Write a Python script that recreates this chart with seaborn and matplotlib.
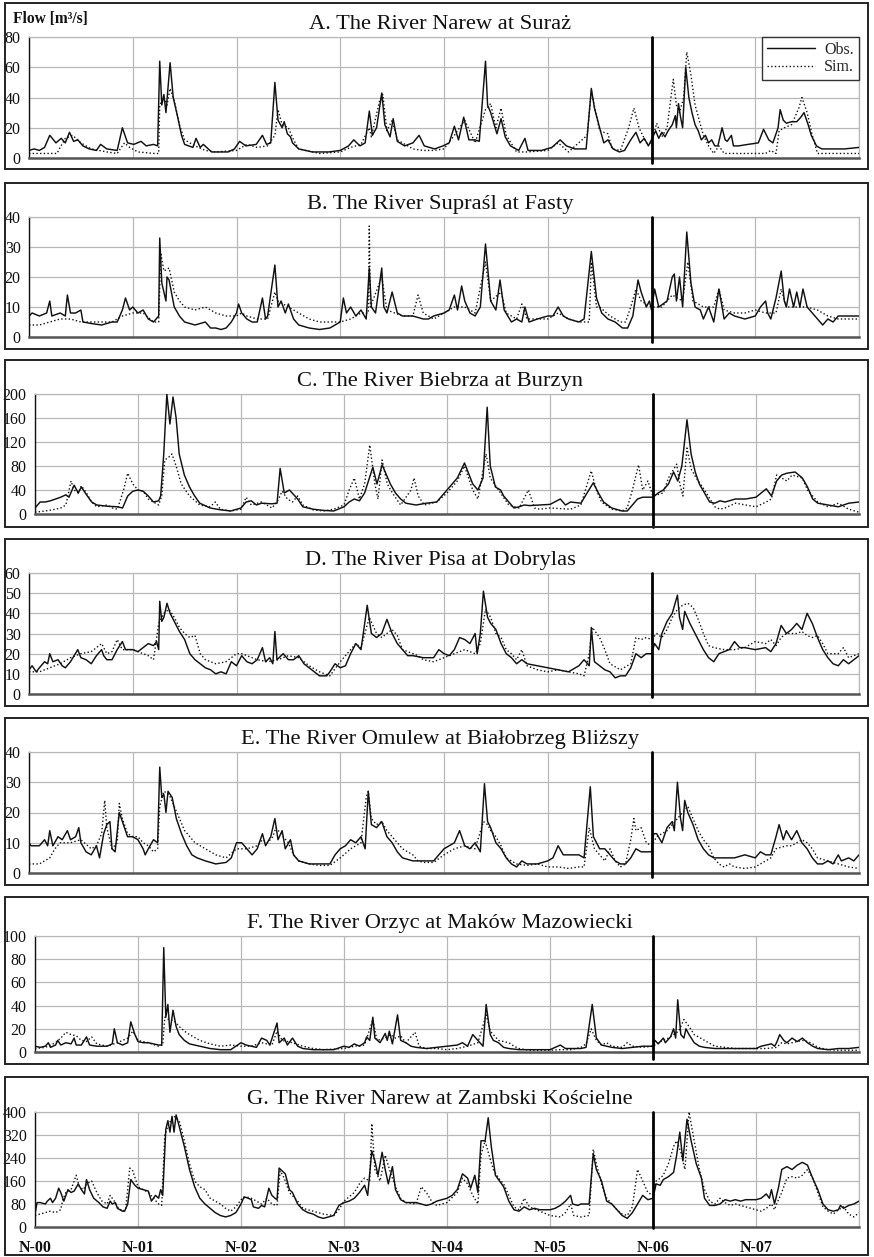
import numpy as np
import pandas as pd
import matplotlib
matplotlib.use("Agg")
import matplotlib.pyplot as plt
import matplotlib.transforms as mtransforms
from matplotlib.patches import Rectangle
from matplotlib.lines import Line2D
import seaborn as sns

# ---------------------------------------------------------------------------
# Daily flow records (time in years from November 2000, flow in m3/s),
# stored as (time, flow) pairs at the turning points of each hydrograph.
# ---------------------------------------------------------------------------
suraz_obs = [(0,5),(0.05,6),(0.1,5),(0.15,7),(0.2,15),(0.26,10),(0.31,13),(0.35,10),(0.39,17),(0.43,11),(0.47,12),(0.52,8),(0.58,6),(0.65,5),(0.69,9),(0.75,6),(0.85,5),(0.9,20),(0.95,10),(1.01,9),(1.08,11),(1.13,8),(1.2,9),(1.24,8),(1.26,64),(1.28,35),(1.3,42),(1.32,30),(1.36,63),(1.39,40),(1.43,28),(1.47,15),(1.5,9),(1.58,7),(1.61,13),(1.65,7),(1.68,9),(1.76,4),(1.92,4),(1.98,6),(2.03,11),(2.09,8),(2.19,9),(2.25,15),(2.29,9),(2.33,10),(2.37,50),(2.4,25),(2.44,20),(2.46,24),(2.49,16),(2.52,14),(2.54,10),(2.6,6),(2.73,4),(2.89,4),(3.0,5),(3.08,8),(3.13,12),(3.19,8),(3.24,10),(3.28,31),(3.31,15),(3.35,20),(3.4,43),(3.43,22),(3.48,14),(3.51,26),(3.55,11),(3.62,8),(3.7,10),(3.76,15),(3.81,8),(3.91,6),(3.99,8),(4.05,10),(4.1,21),(4.14,12),(4.19,27),(4.24,12),(4.3,12),(4.34,11),(4.4,64),(4.42,35),(4.45,30),(4.51,16),(4.55,26),(4.59,14),(4.64,8),(4.72,5),(4.78,13),(4.81,5),(4.94,5),(5.04,7),(5.12,12),(5.18,8),(5.26,6),(5.37,6),(5.42,46),(5.45,33),(5.5,20),(5.54,10),(5.58,12),(5.63,6),(5.69,4),(5.74,5),(5.8,12),(5.85,17),(5.89,10),(5.93,13),(5.97,8),(6.0,12),(6.04,18),(6.07,13),(6.1,17),(6.13,14),(6.16,18),(6.2,22),(6.23,28),(6.24,20),(6.26,36),(6.28,27),(6.3,20),(6.33,60),(6.36,40),(6.39,30),(6.42,22),(6.45,18),(6.48,12),(6.52,15),(6.55,10),(6.58,12),(6.61,8),(6.64,8),(6.68,20),(6.71,12),(6.73,11),(6.77,15),(6.79,8),(6.84,8),(6.93,9),(7.03,10),(7.08,19),(7.13,12),(7.17,10),(7.22,20),(7.24,32),(7.27,25),(7.3,23),(7.35,24),(7.4,24),(7.44,27),(7.47,30),(7.51,22),(7.54,15),(7.59,8),(7.64,6),(7.73,6),(7.86,6),(8.0,7)]
suraz_sim = [(0,3),(0.27,3),(0.3,7),(0.35,13),(0.42,15),(0.5,10),(0.6,6),(0.75,4),(0.85,3),(0.92,10),(0.97,7),(1.05,4),(1.21,3),(1.25,3),(1.26,35),(1.3,40),(1.33,35),(1.36,46),(1.4,38),(1.45,22),(1.5,12),(1.6,8),(1.7,5),(1.8,4),(2.0,5),(2.1,9),(2.2,7),(2.3,8),(2.37,15),(2.4,32),(2.44,22),(2.5,20),(2.55,12),(2.6,6),(2.8,3),(3.0,4),(3.1,7),(3.2,9),(3.28,20),(3.3,14),(3.38,38),(3.41,42),(3.45,18),(3.5,25),(3.55,12),(3.7,6),(3.8,5),(3.9,5),(4.0,6),(4.1,15),(4.2,25),(4.3,10),(4.4,32),(4.45,36),(4.5,20),(4.55,33),(4.6,15),(4.7,4),(4.8,4),(5.0,5),(5.1,10),(5.2,4),(5.38,15),(5.42,44),(5.5,18),(5.58,16),(5.62,6),(5.7,5),(5.78,20),(5.83,33),(5.88,20),(5.95,10),(6.0,10),(6.05,23),(6.1,14),(6.15,20),(6.21,52),(6.24,35),(6.27,30),(6.31,40),(6.34,70),(6.38,55),(6.42,35),(6.46,25),(6.5,15),(6.55,8),(6.6,3),(6.65,8),(6.7,3),(6.8,3),(7.0,3),(7.1,3),(7.15,5),(7.2,3),(7.23,18),(7.28,20),(7.35,22),(7.42,33),(7.45,40),(7.5,30),(7.55,15),(7.6,3),(8.0,3)]

fasty_obs = [(0,7),(0.03,8),(0.1,7),(0.17,8),(0.2,12),(0.22,7),(0.3,8),(0.35,7),(0.37,14),(0.4,8),(0.45,8),(0.5,9),(0.52,5),(0.6,4.5),(0.7,4),(0.8,5),(0.85,5),(0.9,9),(0.93,13),(0.97,9),(1.0,10),(1.05,8),(1.1,9),(1.15,6),(1.2,5),(1.25,7),(1.26,33),(1.28,18),(1.3,15),(1.32,12),(1.33,20),(1.35,19),(1.4,10),(1.45,7),(1.5,5),(1.6,4),(1.7,5),(1.75,3),(1.8,3),(1.85,2.5),(1.9,3),(1.95,5),(2.0,8),(2.02,11),(2.05,8),(2.1,6),(2.15,5),(2.2,5),(2.25,13),(2.28,6),(2.3,7),(2.37,24),(2.4,10),(2.43,12),(2.47,8),(2.5,11),(2.55,6),(2.6,4),(2.7,3),(2.8,2.5),(2.9,3),(3.0,5),(3.03,13),(3.06,8),(3.1,10),(3.15,7),(3.2,9),(3.25,6),(3.28,23),(3.3,10),(3.34,8),(3.4,23),(3.42,10),(3.45,8),(3.5,15),(3.55,8),(3.6,7),(3.7,7),(3.8,6),(3.85,6),(3.9,7),(4.0,8),(4.05,9),(4.1,14),(4.13,9),(4.17,17),(4.2,12),(4.25,8),(4.3,7),(4.35,10),(4.4,31),(4.45,12),(4.5,9),(4.54,19),(4.58,9),(4.65,5),(4.7,6),(4.75,5),(4.78,10),(4.82,5),(4.9,6),(5.0,7),(5.05,7),(5.1,10),(5.15,7),(5.2,6),(5.3,5),(5.35,6),(5.42,28.5),(5.47,13),(5.52,8),(5.58,6),(5.65,5),(5.72,3),(5.77,3),(5.82,7),(5.87,19),(5.9,15),(5.95,10),(5.98,12),(6.0,9),(6.03,16),(6.07,10),(6.15,12),(6.2,20),(6.22,21),(6.24,12),(6.27,20),(6.3,10),(6.34,35),(6.38,18),(6.42,10),(6.47,9),(6.5,6),(6.55,10),(6.6,5),(6.65,16),(6.7,6),(6.75,8),(6.8,7),(6.9,6),(7.0,7),(7.05,10),(7.1,12),(7.12,8),(7.15,6),(7.2,13),(7.25,22),(7.28,12),(7.3,10),(7.33,16),(7.37,10),(7.4,15),(7.43,10),(7.46,16),(7.5,10),(7.55,8),(7.6,6),(7.65,4),(7.7,6),(7.75,5),(7.8,7),(7.9,7),(8.0,7)]
fasty_sim = [(0,4),(0.1,4),(0.2,5),(0.3,6),(0.4,6),(0.5,5),(0.6,5),(0.7,5),(0.8,5),(0.9,7),(1.0,8),(1.1,8),(1.2,5),(1.25,5),(1.27,28),(1.3,22),(1.35,23),(1.4,15),(1.45,12),(1.5,10),(1.6,9),(1.7,10),(1.75,9),(1.8,8),(1.9,7),(2.0,7),(2.05,8),(2.1,7),(2.2,6),(2.3,6),(2.37,15),(2.4,12),(2.5,10),(2.6,8),(2.7,6),(2.8,5),(2.9,5),(3.0,5),(3.1,6),(3.2,8),(3.27,8),(3.28,37),(3.29,10),(3.4,20),(3.45,9),(3.6,7),(3.7,7),(3.75,14),(3.8,8),(3.9,6),(4.0,8),(4.1,10),(4.2,10),(4.3,8),(4.4,25),(4.45,12),(4.55,15),(4.6,8),(4.7,6),(4.75,11),(4.8,6),(4.9,6),(5.0,6),(5.1,8),(5.2,6),(5.3,5),(5.4,5),(5.42,25),(5.47,10),(5.5,10),(5.6,7),(5.7,5),(5.75,5),(5.8,10),(5.85,16),(5.9,12),(6.0,10),(6.1,10),(6.2,14),(6.3,12),(6.35,25),(6.4,12),(6.5,10),(6.6,10),(6.65,16),(6.7,9),(6.8,8),(6.9,8),(7.0,9),(7.1,8),(7.2,8),(7.25,16),(7.3,10),(7.4,10),(7.5,10),(7.6,9),(7.7,7),(7.8,6),(7.9,6),(8.0,6)]

burzyn_obs = [(0,10),(0.05,20),(0.1,20),(0.15,22),(0.2,25),(0.25,28),(0.3,32),(0.33,28),(0.38,48),(0.42,35),(0.45,45),(0.5,32),(0.55,20),(0.6,15),(0.7,13),(0.8,12),(0.85,10),(0.9,30),(0.95,38),(1.0,40),(1.05,38),(1.1,30),(1.15,20),(1.2,22),(1.22,30),(1.25,100),(1.28,200),(1.31,150),(1.34,195),(1.37,160),(1.4,100),(1.45,65),(1.5,45),(1.55,30),(1.6,18),(1.7,10),(1.8,7),(1.9,5),(2.0,10),(2.05,20),(2.1,22),(2.15,15),(2.2,18),(2.3,17),(2.35,18),(2.38,76),(2.42,35),(2.47,40),(2.55,25),(2.6,12),(2.7,8),(2.8,6),(2.9,5),(3.0,12),(3.05,20),(3.1,25),(3.15,22),(3.2,35),(3.28,78),(3.32,50),(3.37,82),(3.45,50),(3.5,35),(3.55,25),(3.6,18),(3.7,15),(3.8,18),(3.9,20),(3.95,30),(4.0,40),(4.1,60),(4.17,85),(4.25,50),(4.3,40),(4.35,60),(4.39,178),(4.42,80),(4.47,45),(4.52,40),(4.55,30),(4.6,20),(4.65,10),(4.7,12),(4.75,15),(4.8,14),(5.0,16),(5.1,25),(5.15,15),(5.2,20),(5.3,18),(5.42,52),(5.47,35),(5.52,20),(5.6,10),(5.7,5),(5.75,5),(5.8,15),(5.85,25),(5.9,28),(6.0,28),(6.05,35),(6.1,40),(6.15,50),(6.2,70),(6.24,55),(6.28,80),(6.33,157),(6.37,100),(6.41,70),(6.45,50),(6.5,35),(6.55,20),(6.6,18),(6.65,22),(6.7,20),(6.8,25),(6.9,25),(7.0,28),(7.05,35),(7.1,42),(7.15,30),(7.2,55),(7.25,65),(7.3,68),(7.38,70),(7.45,60),(7.5,45),(7.55,25),(7.6,18),(7.7,15),(7.8,12),(7.9,18),(8.0,20)]
burzyn_sim = [(0,3),(0.1,5),(0.2,8),(0.25,10),(0.3,15),(0.35,55),(0.38,40),(0.42,35),(0.45,47),(0.5,35),(0.55,20),(0.6,12),(0.7,15),(0.75,10),(0.8,8),(0.86,40),(0.9,68),(0.95,50),(1.0,40),(1.05,38),(1.1,25),(1.2,15),(1.23,30),(1.26,90),(1.3,95),(1.33,100),(1.37,80),(1.42,50),(1.5,30),(1.6,15),(1.7,12),(1.75,20),(1.8,8),(1.9,5),(2.0,8),(2.05,28),(2.1,15),(2.2,20),(2.3,10),(2.35,20),(2.4,38),(2.45,25),(2.5,20),(2.55,30),(2.6,15),(2.7,7),(2.8,5),(2.9,8),(3.0,15),(3.05,40),(3.1,60),(3.15,25),(3.2,50),(3.25,115),(3.3,50),(3.33,25),(3.37,90),(3.42,50),(3.47,35),(3.55,15),(3.65,40),(3.68,60),(3.72,30),(3.78,15),(3.9,20),(4.0,35),(4.1,55),(4.17,80),(4.25,40),(4.3,25),(4.38,100),(4.42,60),(4.5,40),(4.6,15),(4.7,10),(4.79,40),(4.85,10),(4.9,8),(5.0,10),(5.2,8),(5.3,15),(5.4,72),(5.45,40),(5.5,20),(5.6,8),(5.7,5),(5.75,10),(5.8,40),(5.86,82),(5.9,40),(5.95,55),(6.0,30),(6.1,35),(6.15,60),(6.23,83),(6.26,50),(6.29,30),(6.33,110),(6.37,75),(6.42,60),(6.5,40),(6.6,12),(6.65,8),(6.7,10),(6.8,18),(6.9,15),(7.0,12),(7.1,20),(7.15,25),(7.2,65),(7.3,55),(7.35,65),(7.45,60),(7.5,40),(7.6,20),(7.7,12),(7.8,18),(7.9,8),(8.0,3)]

dobrylas_obs = [(0,12),(0.03,14),(0.07,11),(0.1,13),(0.15,16),(0.18,15),(0.2,20),(0.23,16),(0.28,17),(0.32,14),(0.35,13),(0.4,16),(0.47,22),(0.5,18),(0.55,17),(0.6,15),(0.65,19),(0.7,22),(0.72,19),(0.75,17),(0.8,17),(0.85,22),(0.9,26),(0.93,22),(1.0,22),(1.05,21),(1.1,23),(1.15,25),(1.2,24),(1.23,26),(1.25,22),(1.26,46),(1.28,36),(1.3,38),(1.33,45),(1.36,40),(1.4,36),(1.45,31),(1.5,27),(1.55,20),(1.6,17),(1.65,15),(1.7,13),(1.75,12),(1.8,10),(1.85,11),(1.9,10),(1.95,16),(2.0,14),(2.05,19),(2.1,16),(2.15,15),(2.2,17),(2.25,23),(2.28,16),(2.32,18),(2.35,15),(2.37,31),(2.39,17),(2.45,20),(2.5,17),(2.55,17),(2.6,19),(2.65,15),(2.7,13),(2.75,11),(2.8,9),(2.87,9),(2.9,11),(2.95,15),(3.0,13),(3.05,14),(3.1,20),(3.15,25),(3.2,22),(3.26,44),(3.3,30),(3.35,28),(3.4,30),(3.45,37),(3.5,30),(3.55,25),(3.6,22),(3.65,19),(3.7,19),(3.8,18),(3.9,18),(3.95,22),(4.0,20),(4.05,19),(4.1,22),(4.15,28),(4.2,27),(4.25,25),(4.3,30),(4.32,20),(4.35,30),(4.38,51),(4.42,38),(4.45,35),(4.5,32),(4.55,25),(4.6,20),(4.65,18),(4.7,15),(4.75,17),(4.8,15),(4.9,14),(5.0,13),(5.1,12),(5.2,11),(5.3,14),(5.35,17),(5.4,14),(5.42,33),(5.45,16),(5.5,14),(5.55,12),(5.6,11),(5.65,8),(5.7,9),(5.75,9),(5.8,13),(5.85,20),(5.9,18),(5.95,20),(6.0,20),(6.03,25),(6.07,22),(6.1,30),(6.15,36),(6.2,40),(6.25,49),(6.27,38),(6.3,32),(6.32,41),(6.37,35),(6.45,27),(6.5,22),(6.55,18),(6.6,16),(6.65,20),(6.7,21),(6.75,22),(6.8,26),(6.85,23),(6.9,23),(7.0,22),(7.1,23),(7.15,21),(7.2,25),(7.25,34),(7.3,30),(7.35,32),(7.4,35),(7.45,32),(7.5,40),(7.55,35),(7.6,28),(7.65,22),(7.7,18),(7.75,15),(7.8,14),(7.85,17),(7.9,15),(7.95,17),(8.0,19)]
dobrylas_sim = [(0,11),(0.1,11),(0.2,13),(0.3,15),(0.4,18),(0.5,20),(0.6,21),(0.7,25),(0.75,20),(0.8,21),(0.85,27),(0.9,22),(1.0,22),(1.1,20),(1.15,19),(1.2,17),(1.25,35),(1.3,40),(1.35,42),(1.4,38),(1.45,33),(1.5,30),(1.55,28),(1.6,29),(1.65,20),(1.7,17),(1.8,15),(1.9,16),(2.0,20),(2.05,20),(2.1,19),(2.2,17),(2.3,16),(2.4,17),(2.5,19),(2.6,18),(2.7,14),(2.8,11),(2.9,9),(3.0,16),(3.1,22),(3.15,25),(3.2,23),(3.28,38),(3.35,30),(3.4,28),(3.5,32),(3.55,29),(3.6,22),(3.7,20),(3.75,19),(3.8,17),(3.9,16),(4.0,18),(4.1,20),(4.2,22),(4.3,20),(4.35,25),(4.4,42),(4.45,38),(4.5,30),(4.55,28),(4.6,22),(4.65,20),(4.7,17),(4.75,22),(4.8,14),(4.9,12),(5.0,11),(5.1,12),(5.2,11),(5.3,10),(5.35,9),(5.4,20),(5.43,33),(5.5,28),(5.55,22),(5.6,15),(5.7,12),(5.8,15),(5.85,28),(5.9,27),(5.95,28),(6.0,27),(6.05,30),(6.1,28),(6.15,32),(6.2,38),(6.25,42),(6.3,44),(6.35,45),(6.4,43),(6.45,37),(6.5,30),(6.55,24),(6.6,23),(6.7,22),(6.8,22),(6.9,23),(7.0,26),(7.1,25),(7.15,27),(7.2,24),(7.25,28),(7.3,30),(7.4,30),(7.45,31),(7.5,29),(7.55,28),(7.6,29),(7.65,25),(7.7,20),(7.8,20),(7.85,23),(7.9,18),(8.0,20)]

bialobrzeg_obs = [(0,10),(0.02,9),(0.1,9),(0.15,11),(0.18,9),(0.2,14),(0.23,9),(0.28,12),(0.32,11),(0.37,14),(0.4,11),(0.45,12),(0.48,15),(0.5,10),(0.55,7),(0.6,6),(0.65,9),(0.68,5),(0.72,13),(0.75,16),(0.78,17),(0.8,8),(0.83,7),(0.87,20),(0.9,17),(0.95,12),(1.0,12),(1.05,11),(1.1,8),(1.12,6),(1.15,8),(1.2,11),(1.24,10),(1.26,35),(1.28,25),(1.3,26),(1.32,20),(1.34,27),(1.38,25),(1.42,18),(1.47,13),(1.52,9),(1.57,6),(1.62,5),(1.7,4),(1.8,3),(1.9,3.5),(1.95,5),(2.0,10),(2.05,10),(2.1,8),(2.15,6),(2.2,8),(2.25,13),(2.28,9),(2.33,12),(2.37,18),(2.4,11),(2.44,14),(2.47,8),(2.52,11),(2.55,6),(2.6,4),(2.7,3),(2.8,3),(2.9,3),(2.95,6),(3.0,8),(3.05,9),(3.1,11),(3.15,10),(3.2,12),(3.24,8),(3.27,27),(3.3,16),(3.35,15),(3.4,17),(3.45,12),(3.5,10),(3.55,7),(3.6,5),(3.7,4),(3.8,4),(3.9,4),(4.0,8),(4.05,9),(4.1,10),(4.15,14),(4.2,9),(4.25,8),(4.3,10),(4.35,7),(4.39,29.5),(4.42,17),(4.45,15),(4.5,10),(4.55,8),(4.6,5),(4.65,3),(4.7,2),(4.75,4),(4.8,3),(4.9,3),(5.0,4),(5.05,5),(5.1,9),(5.15,6),(5.2,6),(5.3,6),(5.35,5),(5.41,28.5),(5.44,12),(5.5,8),(5.55,8),(5.6,6),(5.65,4),(5.7,3),(5.75,3),(5.8,5),(5.85,8),(5.9,7),(6.0,7),(6.02,13),(6.05,13),(6.1,10),(6.15,15),(6.2,17),(6.22,14),(6.25,30),(6.28,18),(6.3,14),(6.32,24),(6.35,20),(6.4,16),(6.45,11),(6.5,8),(6.55,6),(6.6,5),(6.7,5),(6.8,5),(6.9,6),(7.0,5),(7.05,7),(7.1,6),(7.15,6),(7.2,12),(7.23,16),(7.27,11),(7.3,14),(7.35,11),(7.4,14),(7.45,10),(7.5,8),(7.55,5),(7.6,3),(7.65,3),(7.7,4),(7.75,3),(7.8,6),(7.83,4),(7.9,5),(7.95,4),(8.0,6)]
bialobrzeg_sim = [(0,3),(0.1,3),(0.2,5),(0.25,8),(0.3,10),(0.4,10),(0.5,11),(0.6,8),(0.65,9),(0.7,13),(0.73,24),(0.75,15),(0.8,8),(0.85,10),(0.87,23),(0.9,18),(0.95,13),(1.0,12),(1.05,12),(1.1,10),(1.15,9),(1.2,7),(1.24,8),(1.26,22),(1.3,27),(1.35,26),(1.4,22),(1.45,18),(1.5,14),(1.55,12),(1.6,10),(1.7,8),(1.8,6),(1.9,5),(2.0,8),(2.05,8),(2.1,8),(2.2,9),(2.25,11),(2.3,10),(2.35,12),(2.38,15),(2.45,12),(2.5,10),(2.55,6),(2.6,4),(2.7,3),(2.8,2.5),(2.9,2.5),(3.0,5),(3.1,8),(3.2,10),(3.25,25),(3.27,27),(3.3,18),(3.35,16),(3.4,17),(3.45,14),(3.5,12),(3.55,10),(3.6,8),(3.7,6),(3.75,4),(3.8,3.5),(3.9,3.5),(4.0,6),(4.1,8),(4.2,9),(4.3,8),(4.38,17),(4.42,16),(4.45,14),(4.5,12),(4.55,9),(4.6,5),(4.7,3),(4.8,2.5),(4.9,3),(5.0,2),(5.1,2),(5.2,1.5),(5.3,2),(5.35,2),(5.4,15),(5.45,8),(5.5,6),(5.55,4),(5.6,8),(5.65,4),(5.7,2),(5.75,3),(5.8,11),(5.83,18),(5.85,14),(5.9,15),(5.95,10),(6.0,9),(6.05,12),(6.1,13),(6.15,14),(6.2,16),(6.25,18),(6.3,20),(6.35,22),(6.4,18),(6.45,14),(6.5,11),(6.55,9),(6.6,5),(6.65,3),(6.7,2),(6.75,3),(6.8,2),(6.9,1.5),(7.0,2),(7.1,4),(7.15,5),(7.2,8),(7.3,9),(7.35,9),(7.4,10),(7.45,11),(7.5,10),(7.55,8),(7.6,5),(7.7,4),(7.8,3),(7.9,2),(8.0,1.5)]

makow_obs = [(0,5),(0.05,4),(0.1,5),(0.13,8),(0.15,4),(0.2,6),(0.22,10),(0.25,6),(0.3,8),(0.35,7),(0.38,12),(0.4,6),(0.45,6),(0.5,13),(0.53,6),(0.6,5),(0.7,5),(0.75,7),(0.77,20),(0.8,8),(0.85,6),(0.9,8),(0.93,26),(0.97,15),(1.0,9),(1.05,8),(1.1,8),(1.15,7),(1.2,6),(1.23,6),(1.25,90),(1.27,30),(1.29,41),(1.31,17),(1.34,36),(1.37,22),(1.4,15),(1.45,10),(1.5,7),(1.6,5),(1.7,3),(1.8,2),(1.9,2),(2.0,8),(2.05,6),(2.1,5),(2.15,4),(2.2,12),(2.25,10),(2.28,6),(2.35,25),(2.37,8),(2.42,12),(2.45,6),(2.5,12),(2.55,5),(2.6,3),(2.7,2),(2.8,2),(2.9,2),(3.0,5),(3.05,4),(3.1,7),(3.15,5),(3.2,8),(3.22,13),(3.25,10),(3.28,30),(3.3,12),(3.35,8),(3.4,16),(3.42,10),(3.44,18),(3.47,7),(3.52,32),(3.55,10),(3.6,8),(3.65,5),(3.7,4),(3.8,3),(3.9,4),(4.0,5),(4.1,6),(4.15,8),(4.2,5),(4.25,15),(4.3,10),(4.35,5),(4.38,41),(4.42,15),(4.45,10),(4.5,8),(4.55,4),(4.6,3),(4.7,2),(4.8,2),(4.9,2),(5.0,2),(5.05,4),(5.1,6),(5.15,3),(5.2,3),(5.3,3),(5.35,4),(5.41,41),(5.45,12),(5.5,6),(5.6,4),(5.7,3),(5.8,4),(5.9,5),(6.0,5),(6.02,10),(6.05,7),(6.1,12),(6.12,8),(6.17,13),(6.2,20),(6.22,12),(6.24,45),(6.27,15),(6.3,12),(6.32,20),(6.35,15),(6.4,8),(6.45,5),(6.5,4),(6.6,3),(6.7,3),(6.8,3),(6.9,3),(7.0,3),(7.05,5),(7.1,6),(7.15,7),(7.18,5),(7.2,8),(7.23,15),(7.27,10),(7.3,8),(7.35,12),(7.4,9),(7.45,12),(7.5,8),(7.55,5),(7.6,3),(7.7,2),(7.8,3),(7.9,3),(8.0,4)]
makow_sim = [(0,3),(0.1,4),(0.2,8),(0.25,12),(0.3,17),(0.35,15),(0.4,14),(0.45,10),(0.5,9),(0.55,13),(0.6,7),(0.7,5),(0.8,8),(0.9,12),(0.95,18),(1.0,10),(1.1,8),(1.2,5),(1.24,6),(1.26,30),(1.3,28),(1.35,27),(1.4,22),(1.45,18),(1.5,15),(1.6,10),(1.7,7),(1.8,5),(1.9,6),(2.0,5),(2.1,5),(2.2,8),(2.3,6),(2.35,18),(2.4,10),(2.5,8),(2.6,5),(2.7,3),(2.8,2),(3.0,3),(3.1,5),(3.2,6),(3.28,28),(3.32,10),(3.4,12),(3.45,15),(3.5,12),(3.55,14),(3.6,8),(3.69,17),(3.73,5),(3.8,3),(3.9,3),(4.0,2),(4.1,3),(4.2,5),(4.3,8),(4.38,32),(4.42,18),(4.5,10),(4.6,8),(4.65,5),(4.7,3),(4.8,1.5),(5.0,1.5),(5.1,2),(5.2,2),(5.3,4),(5.35,7),(5.4,20),(5.45,10),(5.5,6),(5.55,8),(5.6,5),(5.7,4),(5.75,8),(5.8,5),(5.9,4),(6.0,5),(6.05,8),(6.1,10),(6.15,12),(6.2,15),(6.25,18),(6.3,28),(6.35,22),(6.4,15),(6.5,10),(6.6,5),(6.7,4),(6.8,3),(7.0,3),(7.1,3),(7.2,4),(7.25,8),(7.3,7),(7.4,9),(7.45,10),(7.5,9),(7.55,7),(7.6,4),(7.7,2),(7.8,1.5),(7.9,1.5),(8.0,1.5)]

zambski_obs = [(0,45),(0.02,85),(0.05,85),(0.1,80),(0.12,90),(0.15,100),(0.17,85),(0.2,100),(0.23,135),(0.25,120),(0.28,90),(0.3,110),(0.32,130),(0.35,120),(0.38,125),(0.42,150),(0.45,130),(0.48,115),(0.5,165),(0.53,130),(0.57,100),(0.62,85),(0.66,70),(0.7,65),(0.73,90),(0.75,80),(0.78,85),(0.8,65),(0.85,55),(0.87,55),(0.9,80),(0.93,165),(0.97,145),(1.0,135),(1.05,130),(1.1,125),(1.13,90),(1.17,110),(1.2,100),(1.22,130),(1.24,110),(1.27,340),(1.29,370),(1.31,330),(1.33,385),(1.35,330),(1.37,390),(1.4,350),(1.45,280),(1.5,200),(1.55,140),(1.6,100),(1.65,80),(1.7,65),(1.75,50),(1.8,40),(1.85,35),(1.9,40),(1.95,50),(2.0,80),(2.03,105),(2.07,100),(2.1,95),(2.12,70),(2.17,65),(2.2,75),(2.23,70),(2.27,135),(2.3,110),(2.33,100),(2.35,95),(2.37,205),(2.4,195),(2.43,185),(2.47,130),(2.5,120),(2.55,80),(2.6,60),(2.65,50),(2.7,45),(2.75,35),(2.8,30),(2.85,35),(2.9,40),(2.95,75),(3.0,85),(3.05,90),(3.1,100),(3.15,120),(3.2,145),(3.23,110),(3.27,265),(3.3,230),(3.33,180),(3.37,260),(3.4,200),(3.43,150),(3.47,210),(3.5,130),(3.55,95),(3.6,85),(3.7,85),(3.8,75),(3.85,80),(3.9,90),(3.95,95),(4.0,100),(4.05,110),(4.1,130),(4.15,185),(4.2,170),(4.23,135),(4.27,180),(4.3,120),(4.33,300),(4.37,300),(4.4,380),(4.43,280),(4.47,180),(4.5,165),(4.55,140),(4.6,90),(4.65,60),(4.7,55),(4.75,70),(4.8,60),(4.85,65),(4.9,60),(5.0,60),(5.05,65),(5.1,75),(5.15,90),(5.2,110),(5.22,80),(5.27,75),(5.3,80),(5.38,80),(5.42,255),(5.45,200),(5.5,160),(5.55,90),(5.6,80),(5.65,60),(5.7,40),(5.75,30),(5.8,50),(5.85,80),(5.9,110),(5.95,95),(6.0,100),(6.03,150),(6.07,145),(6.1,165),(6.15,175),(6.2,190),(6.23,250),(6.26,330),(6.29,230),(6.33,375),(6.37,300),(6.42,220),(6.47,170),(6.5,100),(6.55,75),(6.6,75),(6.65,80),(6.7,95),(6.75,90),(6.8,95),(6.85,90),(6.9,95),(7.0,95),(7.05,100),(7.1,115),(7.13,100),(7.15,130),(7.18,80),(7.22,140),(7.25,200),(7.3,210),(7.35,200),(7.4,215),(7.45,225),(7.5,215),(7.55,170),(7.6,130),(7.65,80),(7.7,60),(7.75,55),(7.8,60),(7.82,75),(7.85,65),(7.9,75),(7.95,80),(8.0,90)]
zambski_sim = [(0,40),(0.05,45),(0.1,50),(0.15,55),(0.2,50),(0.25,60),(0.27,95),(0.3,120),(0.35,130),(0.4,180),(0.43,140),(0.47,130),(0.5,150),(0.55,160),(0.6,120),(0.65,90),(0.7,80),(0.73,110),(0.77,90),(0.8,70),(0.85,55),(0.88,60),(0.92,205),(0.95,195),(1.0,140),(1.05,130),(1.1,120),(1.15,100),(1.2,80),(1.23,75),(1.26,320),(1.3,360),(1.35,385),(1.4,370),(1.45,300),(1.5,220),(1.55,160),(1.6,140),(1.65,130),(1.7,100),(1.75,90),(1.8,80),(1.85,65),(1.9,55),(1.95,70),(2.0,95),(2.05,105),(2.1,100),(2.15,90),(2.2,80),(2.25,100),(2.3,80),(2.35,75),(2.38,195),(2.42,170),(2.47,120),(2.55,90),(2.6,65),(2.7,55),(2.8,45),(2.9,40),(2.95,60),(3.0,90),(3.1,120),(3.15,150),(3.2,170),(3.25,160),(3.27,360),(3.3,200),(3.35,160),(3.4,250),(3.45,190),(3.5,140),(3.55,100),(3.6,85),(3.7,80),(3.75,140),(3.8,120),(3.85,90),(3.9,75),(3.95,80),(4.0,85),(4.1,120),(4.15,170),(4.2,150),(4.25,110),(4.3,80),(4.33,250),(4.37,300),(4.4,260),(4.45,200),(4.5,170),(4.55,150),(4.6,110),(4.65,70),(4.7,60),(4.75,100),(4.8,70),(4.9,55),(5.0,40),(5.1,35),(5.15,50),(5.2,80),(5.23,40),(5.3,35),(5.38,40),(5.42,270),(5.45,220),(5.5,150),(5.55,100),(5.6,80),(5.65,60),(5.7,45),(5.75,40),(5.8,70),(5.85,200),(5.9,160),(5.95,120),(6.0,110),(6.03,160),(6.07,170),(6.1,180),(6.15,220),(6.2,280),(6.23,300),(6.27,260),(6.31,200),(6.35,400),(6.4,300),(6.45,200),(6.5,130),(6.55,90),(6.6,80),(6.65,100),(6.7,85),(6.75,75),(6.8,80),(6.9,70),(7.0,60),(7.05,55),(7.1,65),(7.15,80),(7.18,60),(7.2,80),(7.25,120),(7.3,170),(7.35,175),(7.4,170),(7.45,180),(7.5,200),(7.55,170),(7.6,120),(7.65,70),(7.7,55),(7.75,45),(7.8,60),(7.85,70),(7.9,45),(7.95,35),(8.0,50)]

panel_titles = [
    "A. The River Narew at Suraż",
    "B. The River Supraśl at Fasty",
    "C. The River Biebrza at Burzyn",
    "D. The River Pisa at Dobrylas",
    "E. The River Omulew at Białobrzeg Bliższy",
    "F. The River Orzyc at Maków Mazowiecki",
    "G. The River Narew at Zambski Kościelne",
]
observed = [suraz_obs, fasty_obs, burzyn_obs, dobrylas_obs, bialobrzeg_obs, makow_obs, zambski_obs]
simulated = [suraz_sim, fasty_sim, burzyn_sim, dobrylas_sim, bialobrzeg_sim, makow_sim, zambski_sim]
y_max = [80, 40, 200, 60, 40, 100, 400]
y_step = [20, 10, 40, 10, 10, 20, 80]
year_labels = ["N-00", "N-01", "N-02", "N-03", "N-04", "N-05", "N-06", "N-07"]
split_year = 6  # start of the validation period

# ---------------------------------------------------------------------------
sns.set_theme(style="white")
plt.rcParams["font.family"] = ["Liberation Serif", "DejaVu Serif"]

W, H = 874, 1257
fig = plt.figure(figsize=(W / 100, H / 100), dpi=100)

# pixel layout: (frame top, frame bottom, axes left, axes top, axes bottom, split-line overhang)
layout = [
    (3, 169, 29, 37, 158, 5),
    (183, 349, 29, 217, 337, 5),
    (360, 527, 35, 394, 514, 13),
    (539, 706, 29, 573, 694, 3),
    (718, 885, 29, 752, 873, 4),
    (897, 1064, 35, 936, 1052, 7),
    (1077, 1255, 35, 1112, 1227, 1),
]
AX_RIGHT = 859
GRID = "#b8b8b8"
INK = "#111111"

for i, (ftop, fbot, left, atop, abot, over) in enumerate(layout):
    fig.add_artist(Rectangle((5 / W, 1 - fbot / H), (868 - 5) / W, (fbot - ftop) / H,
                             transform=fig.transFigure, fill=False,
                             edgecolor="#222222", linewidth=1.4))
    ax = fig.add_axes([left / W, 1 - abot / H, (AX_RIGHT - left) / W, (abot - atop) / H])

    obs = pd.DataFrame(observed[i], columns=["t", "q"])
    sim = pd.DataFrame(simulated[i], columns=["t", "q"])
    sns.lineplot(data=obs, x="t", y="q", ax=ax, color=INK, linewidth=1.05,
                 estimator=None, legend=False, zorder=3)
    sns.lineplot(data=sim, x="t", y="q", ax=ax, color=INK, linewidth=1.0,
                 linestyle=":", estimator=None, legend=False, zorder=3)

    ax.set_xlim(0, 8)
    ax.set_ylim(0, y_max[i])
    ax.set_yticks(np.arange(0, y_max[i] + 1, y_step[i]))
    ax.set_xticks(range(9))
    ax.set_xlabel("")
    ax.set_ylabel("")
    ax.grid(True, color=GRID, linewidth=0.9, zorder=0)
    ax.set_axisbelow(True)
    for side in ("top", "right"):
        ax.spines[side].set_color(GRID)
        ax.spines[side].set_linewidth(0.9)
    ax.spines["left"].set_color("#111111")
    ax.spines["left"].set_linewidth(1.0)
    ax.spines["bottom"].set_color("#555555")
    ax.spines["bottom"].set_linewidth(1.8)
    ax.tick_params(axis="y", direction="out", length=3, width=0.8, color="#333333",
                   labelsize=11.5, pad=3, labelcolor="#111111")
    ax.tick_params(axis="x", direction="out", length=3, width=0.8, color="#333333")

    if i == len(layout) - 1:
        ax.set_xticklabels(year_labels + [""], fontsize=11.5, fontweight="bold")
        ax.tick_params(axis="x", pad=6, labelcolor="#111111")
    else:
        ax.tick_params(axis="x", labelbottom=False)

    # boundary between calibration and validation periods
    trans = mtransforms.blended_transform_factory(ax.transData, ax.transAxes)
    ax.plot([split_year, split_year], [1.0, -over / (abot - atop)], transform=trans,
            color="black", linewidth=2.0, clip_on=False, zorder=4)

    fig.text(440 / W, 1 - (atop - 8) / H, panel_titles[i], ha="center", va="baseline",
             fontsize=16.2, color="#111111")

    if i == 0:
        handles = [Line2D([], [], color=INK, linewidth=1.05),
                   Line2D([], [], color=INK, linewidth=1.0, linestyle=":")]
        leg = ax.legend(handles, ["Obs.", "Sim."], loc="upper right",
                        bbox_to_anchor=(1.0, 1.0), borderaxespad=0.0, frameon=True,
                        fancybox=False, edgecolor="#333333", framealpha=1.0,
                        fontsize=11.5, handlelength=3.0, handletextpad=0.6,
                        borderpad=0.3, labelspacing=0.1)
        leg.get_frame().set_linewidth(1.0)
        leg.set_zorder(6)

fig.text(13 / W, 1 - 23 / H, "Flow [m³/s]", fontweight="bold", fontsize=11.2,
         va="baseline", ha="left", color="#111111")

fig.savefig("out.png", dpi=100)
